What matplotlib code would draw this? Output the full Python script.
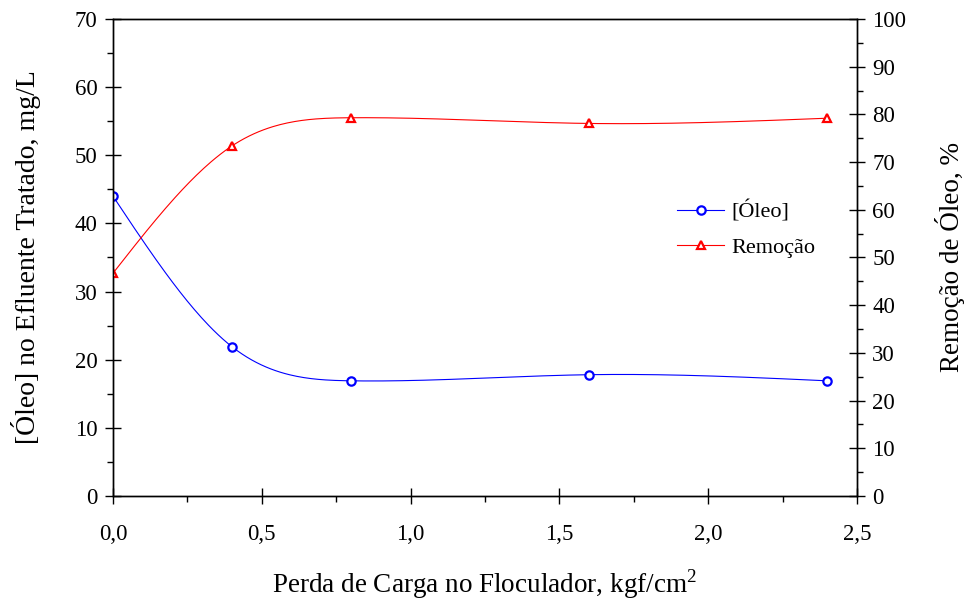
import matplotlib
matplotlib.use('Agg')
import matplotlib.pyplot as plt
from matplotlib.ticker import MultipleLocator, FuncFormatter
import numpy as np

# data
perda = [0.0, 0.4, 0.8, 1.6, 2.4]          # kgf/cm2
oleo = [44.0, 21.9, 16.9, 17.8, 16.9]      # mg/L
remocao = [46.7, 73.4, 79.3, 78.1, 79.2]   # %


def spline(x, y, n=300):
    # natural cubic spline through the points (smoothed line as in the original)
    x = np.asarray(x, float)
    y = np.asarray(y, float)
    k = len(x)
    h = np.diff(x)
    A = np.zeros((k, k))
    b = np.zeros(k)
    A[0, 0] = 1
    A[-1, -1] = 1
    for i in range(1, k - 1):
        A[i, i - 1] = h[i - 1]
        A[i, i] = 2 * (h[i - 1] + h[i])
        A[i, i + 1] = h[i]
        b[i] = 6 * ((y[i + 1] - y[i]) / h[i] - (y[i] - y[i - 1]) / h[i - 1])
    M = np.linalg.solve(A, b)
    xs = np.linspace(x[0], x[-1], n)
    j = np.clip(np.searchsorted(x, xs) - 1, 0, k - 2)
    t0 = x[j + 1] - xs
    t1 = xs - x[j]
    ys = (M[j] * t0**3 + M[j + 1] * t1**3) / (6 * h[j]) \
        + (y[j] / h[j] - M[j] * h[j] / 6) * t0 \
        + (y[j + 1] / h[j] - M[j + 1] * h[j] / 6) * t1
    return xs, ys


plt.rcParams['font.family'] = ['Liberation Serif', 'DejaVu Serif']
plt.rcParams['mathtext.fontset'] = 'custom'
plt.rcParams['mathtext.rm'] = 'Liberation Serif'

fig = plt.figure(figsize=(9.69, 6.05), dpi=100)
ax = fig.add_axes([0.1166, 0.1802, 0.7678, 0.7884])
ax2 = ax.twinx()

xs, ys = spline(perda, oleo)
ax.plot(xs, ys, color='blue', lw=0.8)
ax.plot(perda, oleo, 'o', color='blue', mfc='white', ms=6, mew=1.6)

xs, ys = spline(perda, remocao)
ax2.plot(xs, ys, color='red', lw=0.8)
ax2.plot(perda, remocao, '^', color='red', mfc='white', ms=6, mew=1.6)

ax.set_xlim(0, 2.5)
ax.set_ylim(0, 70)
ax2.set_ylim(0, 100)

comma = FuncFormatter(lambda v, p: ('%.1f' % v).replace('.', ','))
ax.xaxis.set_major_locator(MultipleLocator(0.5))
ax.xaxis.set_minor_locator(MultipleLocator(0.25))
ax.xaxis.set_major_formatter(comma)
ax.yaxis.set_major_locator(MultipleLocator(10))
ax.yaxis.set_minor_locator(MultipleLocator(5))
ax2.yaxis.set_major_locator(MultipleLocator(10))
ax2.yaxis.set_minor_locator(MultipleLocator(5))

for a in (ax, ax2):
    a.tick_params(which='major', direction='inout', length=12, width=1, labelsize=16.5, pad=5)
    a.tick_params(which='minor', direction='out', length=4.5, width=1)
    for s in a.spines.values():
        s.set_linewidth(1)
ax.tick_params(axis='x', which='major', pad=14)

ax.set_xlabel(r'Perda de Carga no Floculador, kgf/cm$^2$', fontsize=19.5, labelpad=16)
ax.set_ylabel('[Óleo] no Efluente Tratado, mg/L', fontsize=20, labelpad=24)
ax2.set_ylabel('Remoção de Óleo, %', fontsize=19.5, labelpad=21)

# legend: line with marker in the middle
h1 = plt.Line2D([], [], color='blue', lw=0.8, marker='o', mfc='white', ms=6, mew=1.6)
h2 = plt.Line2D([], [], color='red', lw=0.8, marker='^', mfc='white', ms=6, mew=1.6)
ax2.legend([h1, h2], ['[Óleo]', 'Remoção'], loc='upper left',
           bbox_to_anchor=(0.699, 0.668), bbox_transform=fig.transFigure,
           frameon=False, fontsize=16, handlelength=2.1, handletextpad=0.35,
           labelspacing=0.65, borderpad=0, borderaxespad=0)

fig.savefig('out.png', dpi=100)
